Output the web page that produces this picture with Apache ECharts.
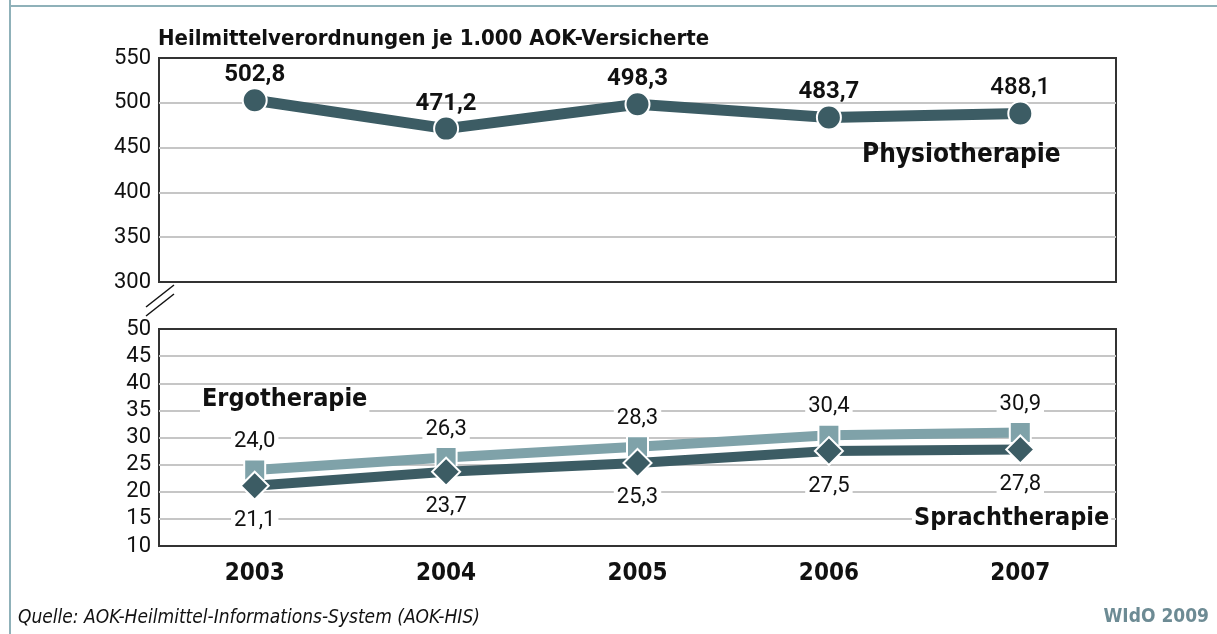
<!DOCTYPE html>
<html>
<head>
<meta charset="utf-8">
<script src="https://cdn.jsdelivr.net/npm/echarts@6/dist/echarts.min.js"></script>
<style>
  html, body { margin: 0; padding: 0; background: #fff; }
  #chart { width: 1217px; height: 634px; }
</style>
</head>
<body>
<div id="chart"></div>
<script>
// Values
const years = ['2003', '2004', '2005', '2006', '2007'];
const physio = [502.8, 471.2, 498.3, 483.7, 488.1];
const ergo = [24.0, 26.3, 28.3, 30.4, 30.9];
const sprach = [21.1, 23.7, 25.3, 27.5, 27.8];

const condensed = "'DejaVu Sans Condensed', 'Liberation Sans Narrow', 'Noto Sans', sans-serif";
const numFont = "Roboto, 'Noto Sans', sans-serif";
const darkTeal = '#3c5c64';
const lightTeal = '#7fa2a9';
const frameColor = '#8fb1b9';

const fmt = v => v.toFixed(1).replace('.', ',');

const chart = echarts.init(document.getElementById('chart'));

// last physio label is drawn in a lighter weight in the original
const physioData = physio.map((v, i) => i === physio.length - 1
    ? { value: v, label: { fontWeight: 500 } }
    : v);

const gridBox = { show: true, borderColor: '#333', borderWidth: 2, backgroundColor: '#fff' };

function valueAxis(grid, min, max, step) {
    return {
        type: 'value', gridIndex: grid, min: min, max: max, interval: step,
        axisLine: { show: false }, axisTick: { show: false },
        axisLabel: { color: '#111', fontSize: 22, fontFamily: numFont, margin: 8 },
        splitLine: { showMinLine: false, showMaxLine: false, lineStyle: { color: '#c6c6c6', width: 2 } }
    };
}

const option = {
    animation: false,
    grid: [
        Object.assign({ left: 159, right: 101, top: 58, height: 224 }, gridBox),
        Object.assign({ left: 159, right: 101, top: 329, height: 217 }, gridBox)
    ],
    xAxis: [
        {
            type: 'category', gridIndex: 0, data: years,
            axisLine: { show: false }, axisTick: { show: false }, axisLabel: { show: false }
        },
        {
            type: 'category', gridIndex: 1, data: years,
            axisLine: { show: false }, axisTick: { show: false },
            axisLabel: {
                color: '#111', fontSize: 24, fontWeight: 'bold', fontFamily: condensed, margin: 16
            }
        }
    ],
    yAxis: [
        valueAxis(0, 300, 550, 50),
        valueAxis(1, 10, 50, 5)
    ],
    series: [
        {
            name: 'Physiotherapie', type: 'line', xAxisIndex: 0, yAxisIndex: 0,
            data: physioData,
            symbol: 'circle', symbolSize: 24,
            lineStyle: { color: darkTeal, width: 11 },
            itemStyle: { color: darkTeal, borderColor: '#fff', borderWidth: 2 },
            label: {
                show: true, position: 'top', distance: 0,
                formatter: p => fmt(p.value),
                color: '#111', fontSize: 24, fontWeight: 'bold', fontFamily: numFont
            },
            z: 3
        },
        {
            name: 'Ergotherapie', type: 'line', xAxisIndex: 1, yAxisIndex: 1,
            data: ergo,
            symbol: 'rect', symbolSize: 21,
            lineStyle: { color: lightTeal, width: 10 },
            itemStyle: { color: lightTeal, borderColor: '#fff', borderWidth: 2 },
            label: {
                show: true, position: 'top', distance: 6,
                formatter: p => fmt(p.value),
                color: '#111', fontSize: 22, fontFamily: numFont,
                backgroundColor: '#fff', padding: [0, 3]
            },
            z: 3
        },
        {
            name: 'Sprachtherapie', type: 'line', xAxisIndex: 1, yAxisIndex: 1,
            data: sprach,
            symbol: 'diamond', symbolSize: [28, 28],
            lineStyle: { color: darkTeal, width: 10 },
            itemStyle: { color: darkTeal, borderColor: '#fff', borderWidth: 2 },
            label: {
                show: true, position: 'bottom', distance: 9,
                formatter: p => fmt(p.value),
                color: '#111', fontSize: 22, fontFamily: numFont,
                backgroundColor: '#fff', padding: [0, 3]
            },
            z: 4
        }
    ],
    graphic: [
        // frame lines of the figure
        { type: 'line', shape: { x1: 10, y1: 0, x2: 10, y2: 634 }, style: { stroke: frameColor, lineWidth: 2 } },
        { type: 'line', shape: { x1: 10, y1: 6, x2: 1217, y2: 6 }, style: { stroke: frameColor, lineWidth: 2 } },
        // axis break marks
        { type: 'line', shape: { x1: 174, y1: 285, x2: 146, y2: 307 }, style: { stroke: '#111', lineWidth: 1.5 } },
        { type: 'line', shape: { x1: 174, y1: 294, x2: 146, y2: 316 }, style: { stroke: '#111', lineWidth: 1.5 } },
        {
            type: 'text', left: 158, top: 28,
            style: { text: 'Heilmittelverordnungen je 1.000 AOK-Versicherte', font: 'bold 22px ' + condensed, fill: '#111' }
        },
        {
            type: 'text', left: 862, top: 142, z: 5,
            style: { text: 'Physiotherapie', font: 'bold 26px ' + condensed, fill: '#111' }
        },
        {
            type: 'text', left: 200, top: 387, z: 5,
            style: { text: 'Ergotherapie', font: '600 25px ' + condensed, fill: '#111', backgroundColor: '#fff', padding: [0, 2] }
        },
        {
            type: 'text', left: 912, top: 506, z: 5,
            style: { text: 'Sprachtherapie', font: '600 25px ' + condensed, fill: '#111', backgroundColor: '#fff', padding: [0, 2] }
        },
        {
            type: 'text', left: 18, top: 609,
            style: { text: 'Quelle: AOK-Heilmittel-Informations-System (AOK-HIS)', font: 'italic 19px ' + condensed, fill: '#111' }
        },
        {
            type: 'text', right: 8, top: 608,
            style: { text: 'WIdO 2009', font: 'bold 19px ' + condensed, fill: '#6d8b94' }
        }
    ]
};

chart.setOption(option);
</script>
</body>
</html>
